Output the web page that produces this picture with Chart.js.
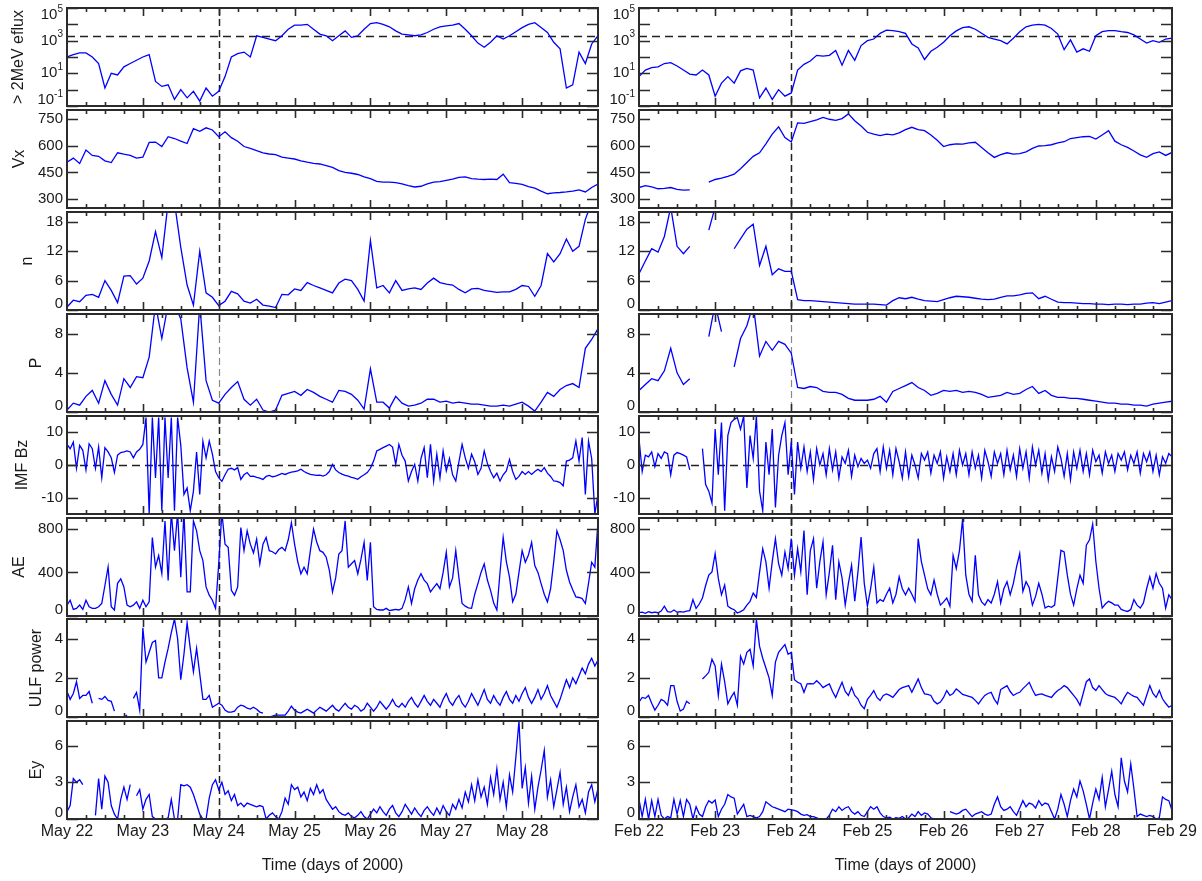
<!DOCTYPE html>
<html>
<head>
<meta charset="utf-8">
<title>Solar wind drivers and >2 MeV electron flux, 2000</title>
<script src="https://cdn.jsdelivr.net/npm/chart.js@4.4.0/dist/chart.umd.min.js"></script>
<style>
  body { margin: 0; background: #fff; overflow: hidden; }
  #wrap { position: relative; width: 1202px; height: 881px; }
  #wrap canvas { position: absolute; }
</style>
</head>
<body>
<div id="wrap"></div>
<script>
// day labels for the two intervals (ticks every 24 h)
const mayDays = ['May 22', 'May 23', 'May 24', 'May 25', 'May 26', 'May 27', 'May 28'];
const febDays = ['Feb 22', 'Feb 23', 'Feb 24', 'Feb 25', 'Feb 26', 'Feb 27', 'Feb 28', 'Feb 29'];

// y tick values per panel
const effluxTicks = [0.1, 1, 10, 100, 1000, 10000, 100000];
const vxTicks = [300, 450, 600, 750];
const nTicks = [0, 6, 12, 18];
const pTicks = [0, 4, 8];
const bzTicks = [-10, 0, 10];
const aeTicks = [0, 400, 800];
const ulfTicks = [0, 2, 4];
const eyTicks = [0, 3, 6];

const effluxThreshold = 2000;   // horizontal reference in the flux panel
const onsetHour = 48;           // dashed marker, start of day 3

// >2 MeV electron flux, log10, every 2 h
const mayEfluxExp = [2.0, 2.15, 2.25, 2.25, 2.0, 1.6, 0.1, 1.0, 0.9, 1.4,
  1.6, 1.8, 2.0, 2.15, 0.5, 0.2, 0.3, -0.6, 0.0, -0.5,
  -0.1, -0.7, 0.1, -0.4, -0.1, 0.8, 2.0, 2.2, 2.3, 2.0,
  3.3, 3.2, 3.1, 3.0, 3.3, 3.7, 3.95, 3.95, 4.0, 3.7,
  3.4, 3.3, 3.0, 3.3, 3.6, 3.2, 3.3, 3.7, 4.05, 4.1,
  4.0, 3.85, 3.6, 3.4, 3.35, 3.3, 3.35, 3.5, 3.7, 3.85,
  3.9, 3.95, 4.05, 3.7, 3.3, 2.85, 2.6, 2.9, 3.3, 3.1,
  3.3, 3.55, 3.8, 4.0, 4.1, 3.8, 3.5, 2.9, 2.5, 0.1,
  0.3, 2.3, 1.6, 2.8, 3.3];
const febEfluxExp = [0.8, 1.2, 1.35, 1.4, 1.6, 1.65, 1.45, 1.2, 0.95, 0.9,
  1.2, 0.9, -0.4, 0.4, 0.8, 0.4, 1.15, 1.3, 1.2, -0.5,
  0.1, -0.6, 0.0, -0.4, -0.2, 1.2, 1.55, 1.75, 2.1, 2.05,
  2.1, 2.4, 1.5, 2.4, 1.8, 2.7, 3.0, 3.1, 3.45, 3.65,
  3.62, 3.55, 3.45, 2.8, 2.55, 1.85, 2.35, 2.6, 2.9, 3.3,
  3.6, 3.8, 3.85, 3.7, 3.45, 3.2, 3.1, 3.0, 2.8, 3.15,
  3.55, 3.85, 3.95, 4.0, 3.95, 3.75, 3.4, 2.45, 3.05, 2.3,
  2.5, 2.35, 3.3, 3.55, 3.62, 3.62, 3.55, 3.5, 3.35, 3.1,
  2.85, 3.0, 2.9, 3.1, 3.15];

// solar wind speed, every 2 h
const mayVx = [507, 530, 500, 575, 545, 540, 515, 505, 560, 552,
  545, 530, 535, 618, 620, 595, 650, 640, 625, 612,
  695, 680, 700, 688, 650, 678, 645, 625, 595, 585,
  572, 560, 553, 550, 535, 530, 525, 515, 507, 500,
  497, 488, 478, 460, 450, 445, 438, 425, 415, 400,
  395, 395, 392, 385, 375, 368, 372, 385, 395, 398,
  405, 412, 422, 425, 415, 412, 410, 412, 410, 440,
  392, 388, 382, 370, 362, 345, 330, 335, 337, 340,
  345, 352, 340, 365, 385];
const febVx = [365, 375, 368, 358, 360, 365, 355, 350, 352, null,
  null, 395, 410, 418, 428, 440, 470, 505, 540, 560,
  610, 665, 705, 645, 620, 728, 725, 735, 745, 758,
  748, 742, 752, 778, 740, 710, 675, 665, 656, 665,
  660, 672, 690, 703, 690, 684, 660, 630, 595, 605,
  610, 609, 615, 619, 590, 560, 534, 550, 560, 552,
  555, 565, 585, 598, 600, 605, 615, 622, 640, 645,
  650, 652, 637, 660, 684, 625, 605, 590, 570, 548,
  534, 555, 565, 545, 562];

// proton density, every 2 h
const mayN = [0.6, 2.0, 1.7, 3.0, 3.2, 2.6, 6.0, 4.0, 1.5, 6.9,
  7.0, 5.3, 6.5, 10.0, 16.0, 10.7, 22, 22, 12.8, 5.1,
  1.0, 12.0, 3.5, 2.6, 0.9, 1.8, 3.8, 3.3, 1.8, 1.4,
  2.2, 1.0, 0.8, 0.5, 3.2, 3.1, 4.3, 4.0, 5.6, 5.0,
  4.5, 4.0, 3.5, 5.5, 6.3, 6.0, 4.2, 1.8, 14.2, 4.5,
  5.0, 3.5, 6.0, 4.0, 4.3, 4.5, 4.2, 5.5, 6.5, 5.6,
  5.3, 5.1, 4.2, 3.5, 4.3, 4.4, 4.0, 3.8, 3.6, 3.7,
  3.7, 4.2, 5.0, 4.8, 2.8, 5.0, 11.5, 9.8, 11.5, 14.5,
  12.0, 13.0, 18.5, 22, 22];
const febN = [7.4, 10.0, 12.5, 11.8, 15.0, 21, 13.0, 11.5, 13.0, null,
  null, 16.3, 21, 21, null, 12.5, 14.5, 16.5, 17.5, 9.1,
  13.0, 7.2, 8.4, 7.9, 7.9, 2.1, 1.9, 1.9, 1.8, 1.7,
  1.6, 1.5, 1.4, 1.3, 1.2, 1.2, 1.2, 1.2, 1.1, 1.0,
  1.9, 2.5, 2.3, 2.6, 2.2, 1.9, 1.8, 1.7, 2.1, 2.5,
  2.8, 2.7, 2.6, 2.4, 2.2, 2.1, 2.2, 2.6, 2.9, 2.9,
  3.1, 3.4, 3.5, 2.3, 2.8, 2.2, 1.6, 1.5, 1.5, 1.4,
  1.3, 1.3, 1.2, 1.2, 1.1, 1.2, 1.2, 1.1, 1.2, 1.2,
  1.4, 1.5, 1.3, 1.6, 1.9];

// dynamic pressure, every 2 h
const mayP = [0.2, 0.9, 0.7, 1.6, 2.2, 0.9, 3.2, 1.8, 0.7, 3.4,
  2.5, 3.6, 3.5, 5.6, 11, 7.5, 11, 11, 9.5, 4.5,
  1.0, 11, 3.2, 1.2, 0.9, 1.8, 2.5, 3.1, 1.3, 0.7,
  1.3, 0.2, 0.0, 0.2, 1.7, 1.9, 2.1, 1.7, 2.3, 2.0,
  1.6, 1.3, 1.0, 2.2, 2.1, 1.8, 1.2, 0.3, 4.4, 1.0,
  1.0, 0.4, 1.6, 0.9, 0.6, 0.7, 0.9, 1.3, 1.3, 1.0,
  1.1, 0.9, 1.0, 0.9, 0.8, 0.8, 0.7, 0.6, 0.6, 0.7,
  0.6, 0.8, 1.0, 0.6, 0.1, 1.0, 2.0, 1.6, 2.3, 2.7,
  2.9, 2.5, 6.5, 7.4, 8.5];
const febP = [2.2, 2.8, 3.4, 3.2, 4.2, 6.5, 4.0, 2.8, 3.4, null,
  null, 7.7, 11, 8.2, null, 4.6, 7.5, 8.8, 11, 5.7,
  7.2, 6.3, 7.2, 6.9, 6.0, 2.5, 2.4, 2.6, 2.5, 2.1,
  2.0, 2.0, 1.8, 1.4, 1.2, 1.2, 1.2, 1.3, 1.6, 1.0,
  2.1, 2.4, 2.7, 3.0, 2.5, 2.2, 1.7, 1.9, 2.2, 2.1,
  2.2, 2.0, 2.1, 2.0, 1.8, 1.5, 1.6, 1.7, 2.0, 1.8,
  1.9, 2.3, 2.6, 1.9, 2.2, 1.7, 1.5, 1.5, 1.4, 1.4,
  1.3, 1.2, 1.1, 1.0, 0.9, 0.9, 0.8, 0.8, 0.7, 0.7,
  0.6, 0.8, 0.9, 1.0, 1.1];

// IMF Bz, hourly
const mayBz = [6.3, 5.0, 7.0, -1.0, 6.0, 4.5, -1.5, 6.5, 5.0, -1.0, 5.5,
  -3.9, 5.3, 4.0, 2.2, -2.3, 3.0, 3.8, 4.0, 4.3, 4.0,
  2.2, 4.0, 4.8, 6.3, 14.5, -15, 14.5, -4, 14.5, -14,
  14.5, -4, 14.5, -14, 14.5, 6, -9, -7, -14, -8,
  4, -9, 7.3, 2.2, 7.3, 3.3, -2.0, -3.9, -5, -3,
  -1.3, -1.0, -1.5, -0.8, -4.4, -3.0, -2.3, -3.5, -3.4, -3.8,
  -4.0, -4.4, -3.5, -3.2, -3.6, -3.4, -3.0, -2.6, -2.9, -2.5,
  -2.2, -2.0, -1.8, -1.3, -2.0, -2.5, -2.9, -3.0, -3.2, -3.1,
  -3.4, -3.0, -2.0, 0.2, -1.5, -2.3, -2.8, -3.2, -3.4, -3.8,
  -4.0, -4.4, -3.6, -3.0, -2.3, -1.0, 1.2, 4.3, 4.8, 5.3,
  5.8, 6.3, 5.5, 0.2, 6.3, 3.0, 1.2, -4.9, -2.0, 0.2,
  -4.9, 2.0, 5.3, -3.9, 6.3, -4.9, 3.3, -3.9, 4.3, -1.8,
  2.0, -3.0, -4.9, 1.0, 6.3, 2.2, -1.0, 3.3, 1.0, -2.9,
  -1.0, 4.3, 0.5, -2.0, -3.9, -2.5, -4.9, -3.0, -1.8, 1.7,
  -2.0, -4.4, -3.5, -2.0, -2.9, -2.0, -2.9, -2.0, -1.3, -2.0,
  -0.8, -2.5, -3.5, -4.9, -5.0, -5.4, -6.4, 1.2, 1.5, 2.2,
  7.3, 1.2, 8.4, -9, 7.3, 2.0, -15, -9];
const febBz = [8.1, -2.0, 3.0, 2.5, 4.0, -0.5, 3.5, 2.0, 4.0, 3.5,
  -3.0, 3.0, 3.8, 3.5, 3.0, 2.5, -1.5, null, null, null,
  5.0, -6.0, -8.0, -11.6, 11.0, -3.0, 13.0, -14.0, 9.0, 13.0,
  14.0, 14.5, 11.0, 15.0, -7.0, 9.0, 2.0, 15.0, -8.0, -14.0,
  7.0, -3.0, 11.0, -13.0, 3.0, 9.0, 13.0, -3.0, 7.0, -9.0,
  7.0, -1.0, 5.5, -2.0, 4.0, -4.5, 5.0, 0.0, 3.5, -3.0,
  5.0, -1.5, 4.0, -4.0, 2.5, 0.5, 4.5, -3.5, 3.0, -0.5,
  2.0, 0.5, 1.5, -1.0, 3.5, 5.0, -2.0, 5.5, -1.0, 4.5,
  -3.0, 5.0, 1.0, -4.0, 4.0, -3.5, 3.0, 0.0, -4.0, 3.5,
  1.5, 4.0, -2.5, 3.0, 0.5, 4.0, -4.0, 2.5, -2.0, 3.5,
  -3.0, 4.5, 0.0, 3.5, -3.0, 4.0, -1.0, 3.0, -4.0, 4.5,
  1.0, -3.5, 4.0, 0.5, 3.5, -3.0, 4.5, -1.5, 3.0, -3.5,
  5.0, -1.0, 4.0, -4.0, 5.5, 0.0, 4.5, -2.5, 3.5, -4.5,
  2.5, -2.0, 5.5, 2.0, -3.5, 3.5, -4.5, 4.0, -1.0, 4.5,
  -2.0, 3.5, -3.0, 4.5, 1.0, 3.0, -2.5, 4.0, 0.5, 3.0,
  -2.0, 3.5, 1.5, 4.0, -1.5, 3.0, 0.5, 4.0, -2.5, 3.5,
  1.0, 4.0, -2.0, 3.0, -3.0, 2.5, 0.5, 3.5, 2.5];

// AE index, hourly
const mayAE = [100, 145, 60, 70, 100, 60, 145, 85, 70, 70,
  85, 115, 280, 450, 85, 55, 300, 342, 267, 100,
  85, 100, 130, 70, 145, 85, 130, 721, 450, 555,
  390, 873, 327, 950, 600, 950, 357, 950, 221, 221,
  873, 782, 600, 509, 267, 191, 145, 70, 479, 950,
  660, 630, 236, 191, 267, 812, 600, 782, 660, 580,
  706, 479, 660, 721, 600, 590, 570, 610, 630, 600,
  700, 857, 660, 500, 388, 448, 388, 600, 797, 680,
  600, 585, 540, 420, 221, 350, 570, 600, 873, 448,
  480, 509, 388, 520, 676, 327, 676, 85, 60, 55,
  55, 70, 50, 55, 60, 55, 70, 150, 267, 115,
  250, 330, 388, 330, 297, 221, 260, 297, 251, 400,
  585, 267, 350, 600, 350, 115, 90, 75, 70, 200,
  297, 400, 479, 330, 236, 120, 55, 400, 721, 500,
  357, 130, 200, 400, 600, 494, 560, 676, 464, 400,
  297, 200, 130, 250, 500, 782, 700, 600, 420, 312,
  240, 176, 170, 160, 115, 300, 494, 448, 873];
const febAE = [30, 35, 25, 40, 30, 35, 30, 45, 90, 40,
  35, 55, 35, 40, 35, 45, 50, 150, 70, 110,
  165, 280, 375, 405, 572, 345, 195, 285, 90, 70,
  58, 27, 40, 58, 100, 135, 210, 170, 400, 618,
  497, 255, 500, 710, 480, 375, 588, 436, 710, 375,
  618, 405, 785, 195, 600, 710, 255, 500, 680, 195,
  400, 650, 150, 497, 350, 100, 300, 466, 135, 400,
  725, 300, 90, 250, 450, 120, 150, 135, 200, 255,
  120, 200, 360, 250, 195, 255, 200, 135, 710, 500,
  375, 250, 195, 330, 200, 100, 130, 165, 90, 557,
  436, 600, 890, 375, 200, 135, 557, 195, 130, 100,
  150, 120, 200, 315, 120, 250, 315, 195, 300, 450,
  572, 225, 315, 260, 100, 180, 300, 200, 73, 90,
  80, 100, 350, 603, 588, 375, 200, 100, 250, 375,
  300, 650, 700, 845, 500, 255, 73, 110, 135, 120,
  100, 100, 60, 50, 42, 60, 150, 100, 73, 120,
  250, 360, 255, 390, 300, 255, 73, 195, 150];

// ground ULF wave power, hourly
const mayUlf = [1.3, 0.9, 1.2, 1.8, 0.95, 1.1, 1.1, 1.3, 0.7, null,
  0.95, 0.9, 1.05, 0.85, 0.8, 0.3, null, null, 0.0, 0.1,
  null, 0.95, 1.25, 0.35, 4.55, 2.8, 3.3, 3.8, 3.9, 2.0,
  2.0, 2.8, 3.5, 4.3, 5.0, 4.0, 1.9, 3.2, 4.8, 3.5,
  2.3, 3.5, 2.2, 0.9, 0.9, 1.1, 0.5, 0.6, 0.7, 0.6,
  0.35, 0.25, 0.25, 0.3, 0.5, 0.6, 0.55, 0.45, 0.4, 0.5,
  0.4, 0.25, 0.2, null, 0.0, 0.05, 0.1, 0.1, 0.1, 0.1,
  0.3, 0.55, 0.35, 0.25, 0.2, 0.3, 0.4, 0.3, 0.2, 0.35,
  0.5, 0.4, 0.3, 0.45, 0.6, 0.4, 0.3, 0.5, 0.7, 0.5,
  0.4, 0.6, 0.5, 0.3, 0.4, 0.7, 0.5, 0.3, 0.5, 0.8,
  0.6, 0.4, 0.6, 0.9, 0.6, 0.5, 0.7, 0.5, 0.8, 1.0,
  0.7, 0.5, 0.8, 1.1, 0.8, 0.6, 0.9, 0.7, 0.5, 0.9,
  1.2, 0.8, 0.6, 0.9, 1.1, 0.7, 0.5, 0.8, 1.2, 0.9,
  0.6, 1.0, 1.4, 0.9, 0.7, 1.1, 0.8, 0.6, 1.0, 1.3,
  0.9, 0.7, 1.1, 0.8, 1.2, 1.5, 1.0, 0.7, 1.0, 1.4,
  0.9, 1.2, 1.6, 1.1, 0.8, 0.5, 0.9, 1.4, 1.9, 1.5,
  2.0, 1.7, 2.1, 2.5, 2.2, 2.7, 3.0, 2.6, 2.9];
const febUlf = [0.76, 1.0, 0.95, 1.1, 0.7, 0.35, 0.6, 0.9, 0.8, 0.6,
  1.6, 1.6, 0.8, 0.3, 0.4, 0.8, 0.67, null, null, null,
  1.94, 2.1, 2.28, 2.95, 2.6, 1.1, 2.7, 1.8, 0.67, 1.0,
  1.26, 0.6, 3.1, 2.7, 3.3, 3.45, 2.6, 4.97, 3.6, 3.0,
  2.5, 2.0, 1.1, 2.8, 3.3, 3.5, 3.7, 3.2, 3.3, 1.9,
  1.77, 1.7, 1.26, 1.69, 1.7, 1.69, 1.85, 1.7, 1.5, 1.6,
  1.69, 1.3, 1.0, 1.4, 1.77, 1.3, 1.1, 1.5, 1.1, 0.93,
  0.6, 0.42, 0.9, 1.1, 1.35, 1.0, 0.84, 1.1, 1.18, 1.1,
  1.0, 1.2, 1.4, 1.5, 1.55, 1.6, 1.26, 1.6, 1.94, 1.5,
  1.18, 1.15, 1.1, 0.8, 0.67, 0.76, 1.0, 1.35, 1.1, 1.2,
  1.43, 1.3, 1.15, 1.1, 1.05, 1.0, 0.85, 0.67, 0.9, 1.1,
  1.2, 1.26, 0.9, 0.67, 1.4, 1.5, 1.6, 1.3, 1.1, 1.2,
  1.26, 1.45, 1.6, 1.77, 1.4, 1.1, 1.15, 1.18, 1.1, 1.05,
  1.0, 1.2, 1.35, 1.45, 1.6, 1.5, 1.3, 1.1, 0.9, 0.6,
  1.2, 1.8, 1.94, 1.5, 1.35, 1.6, 1.4, 1.2, 1.1, 1.05,
  1.0, 0.85, 0.67, 1.0, 1.26, 1.15, 1.05, 1.0, 0.8, 0.6,
  1.1, 1.6, 1.2, 1.0, 1.35, 0.93, 0.7, 0.5, 0.6];

// dawn-dusk electric field, hourly
const mayEy = [0.6, 1.1, 3.3, 3.0, 3.2, 2.8, null, 0.8, null, 0.3,
  3.3, 0.8, 3.5, 3.0, 1.1, 0.4, 0, 1.6, 2.6, 1.6,
  2.8, null, 1.9, 2.4, 0.8, 1.6, 2.0, 0.2, 0, 0,
  0, 0, 0.1, 1.6, 0, 0, 2.8, 2.7, 2.8, 2.6,
  2.0, 1.2, 0.4, 0, 0, 1.7, 2.8, 3.2, 2.4, 3.0,
  2.0, 2.3, 1.5, 2.0, 1.1, 1.3, 1.0, 1.3, 1.2, 1.1,
  1.0, 1.1, 1.0, 0, 0.3, 0.5, 0.2, 0, 0.6, 1.7,
  1.2, 2.8, 2.4, 2.6, 1.8, 2.2, 1.5, 2.5, 2.0, 2.8,
  2.1, 2.4, 1.6, 1.2, 0.8, 1.0, 0.6, 0.4, 0.3, 0.5,
  0.2, 0.1, 0.3, 0.6, 0.2, 0.0, 0.4, 0.8, 0.5, 1.0,
  0.6, 0.3, 0.8, 1.1, 0.5, 0.2, 0.6, 1.2, 0.8, 0.4,
  0.9, 0.5, 0.2, 0.7, 1.0, 0.6, 0.3, 0.9, 0.4, 1.1,
  0.6, 0.3, 1.2, 0.8, 1.6, 0.9, 2.2, 1.4, 2.8, 1.5,
  3.2, 1.8, 2.6, 1.2, 3.4, 2.0, 4.1, 1.6, 3.0, 1.0,
  3.6, 2.2, 5.0, 8.0, 2.5, 4.2, 1.3, 3.5, 0.8, 2.6,
  4.0, 5.6, 1.8, 3.2, 1.0, 2.4, 3.8, 1.2, 2.6, 0.6,
  1.8, 2.8, 1.0, 1.6, 0.5, 2.2, 2.8, 1.4, 2.5];
const febEy = [1.6, 0.2, 1.6, 0.0, 1.5, 0.2, 1.6, 0.3, 0.0, 0.2,
  0.1, 1.6, 0.4, 1.5, 0.2, 1.6, 1.2, 0.0, 1.0, 0.4,
  0.2, 1.0, 1.5, 1.3, 1.55, 0.2, 0.8, 1.2, 2.0, 1.8,
  1.7, 0.4, 0.8, 1.2, 0.2, 0.3, 0.2, 0.1, 0.2, 0.6,
  1.4, 1.2, 1.0, 0.9, 0.8, 0.7, 0.6, 0.8, 0.75, 0.7,
  0.6, 0.4, 0.3, 0.35, 0.2, 0.2, 0.1, 0.0, 0.0, 0.0,
  0.3, 0.8, 0.6, 1.0, 0.7, 0.9, 1.0, 0.6, 0.4, 0.6,
  0.3, 0.2, 0.6, 1.0, 0.8, 1.0, 0.5, 0.2, 0.1, 0.15,
  0.0, 0.1, 0.05, 0.2, 0.0, 0.1, 0.4, 0.2, 0.6, 0.3,
  0.5, 0.4, 0.1, 0.0, null, null, null, null, 0.6, 0.5,
  0.4, 0.5, 0.7, 0.8, 0.5, 0.2, 0.4, 0.5, 0.6, 0.4,
  0.3, 0.4, 1.2, 1.8, 1.0, 0.7, 0.8, 1.0, 0.6, 0.3,
  0.9, 1.5, 1.0, 1.3, 1.2, 0.9, 1.5, 1.1, 1.3, 1.2,
  0.6, 0.0, 0.8, 2.0, 1.2, 0.2, 1.5, 2.45, 1.8, 3.1,
  2.3, 1.2, 0.0, 1.3, 2.45, 1.6, 3.4, 1.0, 2.4, 3.9,
  2.0, 1.0, 5.0, 3.1, 2.2, 4.5, 2.45, 0.2, 0.4, 0.3,
  0.2, 0.3, 0.2, 0.0, 0.1, 1.8, 1.6, 1.5, 0.7];

const toFlux = arr => arr.map(e => e === null ? null : Math.pow(10, e));

const panels = [
  { title: '> 2MeV eflux', log: true, min: 0.1, max: 100000, ticks: effluxTicks,
    refY: [effluxThreshold], step: 2, may: toFlux(mayEfluxExp), feb: toFlux(febEfluxExp) },
  { title: 'Vx', min: 250, max: 800, ticks: vxTicks, step: 2, may: mayVx, feb: febVx },
  { title: 'n', min: 0, max: 20, ticks: nTicks, step: 2, may: mayN, feb: febN },
  { title: 'P', min: 0, max: 10, ticks: pTicks, step: 2, may: mayP, feb: febP, faintMarker: true },
  { title: 'IMF Bz', min: -15, max: 15, ticks: bzTicks, refY: [0], step: 1, may: mayBz, feb: febBz },
  { title: 'AE', min: 0, max: 900, ticks: aeTicks, step: 1, may: mayAE, feb: febAE },
  { title: 'ULF power', min: 0, max: 5, ticks: ulfTicks, step: 1, may: mayUlf, feb: febUlf },
  { title: 'Ey', min: 0, max: 8, ticks: eyTicks, step: 1, may: mayEy, feb: febEy }
];

const columns = [
  { key: 'may', left: 0, width: 600, plotLeft: 67, plotRight: 598, days: mayDays, titled: true },
  { key: 'feb', left: 600, width: 602, plotLeft: 39, plotRight: 572, days: febDays, titled: false }
];

const INK = '#1a1a1a';
const FRAME = '#2b2b2b';
const LINE = '#0000ff';
const FONT = '"Liberation Sans", Arial, Helvetica, sans-serif';
const ROW_TOP = 8, ROW_PITCH = 101.9, ROW_H = 98, MARGIN = 12, AXIS_H = 61;
const SPAN_HOURS = 168;

Chart.defaults.font.family = FONT;
Chart.defaults.color = INK;

// frame, inward ticks, dashed markers, y labels and y title for one panel
function panelDecor(panel, col) {
  return {
    id: 'panelDecor',
    beforeDatasetsDraw(chart) {
      const { ctx, chartArea: a, scales: { x, y } } = chart;
      ctx.save();
      ctx.beginPath();
      ctx.rect(a.left, a.top, a.width, a.height);
      ctx.clip();
      (panel.refY || []).forEach(v => {
        const py = Math.round(y.getPixelForValue(v)) + 0.5;
        ctx.setLineDash([8, 5]);
        ctx.strokeStyle = '#222';
        ctx.lineWidth = 1.5;
        ctx.beginPath();
        ctx.moveTo(a.left, py);
        ctx.lineTo(a.right, py);
        ctx.stroke();
      });
      const px = Math.round(x.getPixelForValue(onsetHour)) + 0.5;
      ctx.setLineDash([7, 4]);
      ctx.strokeStyle = panel.faintMarker ? 'rgba(40,40,40,0.55)' : '#222';
      ctx.lineWidth = panel.faintMarker ? 1.2 : 1.5;
      ctx.beginPath();
      ctx.moveTo(px, a.top);
      ctx.lineTo(px, a.bottom);
      ctx.stroke();
      ctx.restore();
    },
    afterDraw(chart) {
      const { ctx, chartArea: a, scales: { x, y } } = chart;
      ctx.save();
      ctx.strokeStyle = FRAME;
      ctx.lineWidth = 2;
      ctx.strokeRect(a.left, a.top, a.width, a.height);

      // time ticks: long at days, short every 6 h
      ctx.lineWidth = 1.6;
      ctx.beginPath();
      for (let h = 6; h < SPAN_HOURS; h += 6) {
        const px = Math.round(x.getPixelForValue(h)) + 0.5;
        const len = h % 24 === 0 ? 8 : 4;
        ctx.moveTo(px, a.top);
        ctx.lineTo(px, a.top + len);
        ctx.moveTo(px, a.bottom);
        ctx.lineTo(px, a.bottom - len);
      }
      panel.ticks.forEach(v => {
        const py = Math.round(y.getPixelForValue(v)) + 0.5;
        ctx.moveTo(a.left, py);
        ctx.lineTo(a.left + 11, py);
        ctx.moveTo(a.right, py);
        ctx.lineTo(a.right - 11, py);
      });
      ctx.stroke();

      // tick labels, kept inside the panel height
      ctx.fillStyle = INK;
      ctx.textBaseline = 'middle';
      ctx.textAlign = 'left';
      const right = a.left - 4;
      let leftMost = right;
      panel.ticks.forEach(v => {
        let cy = y.getPixelForValue(v);
        cy = Math.min(Math.max(cy, a.top + 7), a.bottom - 6);
        if (panel.log) {
          const exp = Math.round(Math.log10(v));
          if (exp % 2 === 0) return;
          ctx.font = '10px ' + FONT;
          const we = ctx.measureText(String(exp)).width;
          ctx.font = '15px ' + FONT;
          const wb = ctx.measureText('10').width;
          const x0 = right - we - wb;
          ctx.fillText('10', x0, cy);
          ctx.font = '10px ' + FONT;
          ctx.fillText(String(exp), x0 + wb, cy - 6);
          leftMost = Math.min(leftMost, x0);
        } else {
          ctx.font = '15px ' + FONT;
          const s = String(v);
          const w = ctx.measureText(s).width;
          ctx.fillText(s, right - w, cy);
          leftMost = Math.min(leftMost, right - w);
        }
      });

      if (col.titled) {
        ctx.font = '16px ' + FONT;
        ctx.textAlign = 'center';
        ctx.textBaseline = 'alphabetic';
        ctx.translate(leftMost - 14, (a.top + a.bottom) / 2);
        ctx.rotate(-Math.PI / 2);
        ctx.fillText(panel.title, 0, 0);
      }
      ctx.restore();
    }
  };
}

const wrap = document.getElementById('wrap');

function addPanel(panel, row, col) {
  const last = row === panels.length - 1;
  const top = Math.round(ROW_TOP + row * ROW_PITCH) - MARGIN;
  const height = MARGIN + ROW_H + (last ? AXIS_H : MARGIN);

  const canvas = document.createElement('canvas');
  canvas.width = col.width;
  canvas.height = height;
  canvas.style.left = col.left + 'px';
  canvas.style.top = top + 'px';
  wrap.appendChild(canvas);

  const points = panel[col.key].map((v, i) => ({ x: i * panel.step, y: v }));

  new Chart(canvas, {
    type: 'line',
    data: {
      datasets: [{
        data: points,
        borderColor: LINE,
        borderWidth: 1.3,
        pointRadius: 0,
        tension: 0,
        fill: false,
        spanGaps: false
      }]
    },
    options: {
      responsive: false,
      animation: false,
      events: [],
      layout: {
        padding: { left: col.plotLeft, right: col.width - col.plotRight, top: MARGIN, bottom: last ? 0 : MARGIN }
      },
      plugins: { legend: { display: false }, tooltip: { enabled: false } },
      scales: {
        x: {
          type: 'linear',
          min: 0,
          max: SPAN_HOURS,
          display: last,
          grid: { display: false, drawTicks: false },
          border: { display: false },
          afterBuildTicks: s => { s.ticks = col.days.map((d, i) => ({ value: i * 24 })); },
          ticks: {
            autoSkip: false, maxRotation: 0, minRotation: 0, padding: 3,
            font: { size: 16 }, color: INK,
            callback: v => col.days[Math.round(v / 24)]
          },
          title: {
            display: true, text: 'Time (days of 2000)',
            font: { size: 16 }, color: INK, padding: { top: 0, bottom: 5 }
          },
          afterFit: s => { if (last) s.height = AXIS_H; }
        },
        y: {
          type: panel.log ? 'logarithmic' : 'linear',
          min: panel.min,
          max: panel.max,
          display: false
        }
      }
    },
    plugins: [panelDecor(panel, col)]
  });
}

columns.forEach(col => panels.forEach((panel, row) => addPanel(panel, row, col)));
</script>
</body>
</html>
